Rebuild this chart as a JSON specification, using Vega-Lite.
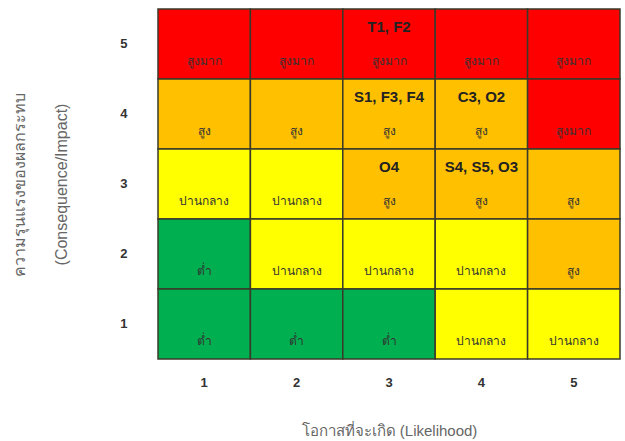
{
  "$schema": "https://vega.github.io/schema/vega-lite/v6.json",
  "width": 462,
  "height": 350,
  "autosize": {"type": "none"},
  "padding": {"left": 158, "top": 9, "right": 5, "bottom": 82},
  "background": "white",
  "config": {"view": {"stroke": null}, "font": "Arial, Liberation Sans, sans-serif"},
  "data": {
    "values": [
      {"likelihood": 1, "impact": 5, "level": "สูงมาก", "codes": ""},
      {"likelihood": 2, "impact": 5, "level": "สูงมาก", "codes": ""},
      {"likelihood": 3, "impact": 5, "level": "สูงมาก", "codes": "T1, F2"},
      {"likelihood": 4, "impact": 5, "level": "สูงมาก", "codes": ""},
      {"likelihood": 5, "impact": 5, "level": "สูงมาก", "codes": ""},
      {"likelihood": 1, "impact": 4, "level": "สูง", "codes": ""},
      {"likelihood": 2, "impact": 4, "level": "สูง", "codes": ""},
      {"likelihood": 3, "impact": 4, "level": "สูง", "codes": "S1, F3, F4"},
      {"likelihood": 4, "impact": 4, "level": "สูง", "codes": "C3,  O2"},
      {"likelihood": 5, "impact": 4, "level": "สูงมาก", "codes": ""},
      {"likelihood": 1, "impact": 3, "level": "ปานกลาง", "codes": ""},
      {"likelihood": 2, "impact": 3, "level": "ปานกลาง", "codes": ""},
      {"likelihood": 3, "impact": 3, "level": "สูง", "codes": "O4"},
      {"likelihood": 4, "impact": 3, "level": "สูง", "codes": "S4, S5, O3"},
      {"likelihood": 5, "impact": 3, "level": "สูง", "codes": ""},
      {"likelihood": 1, "impact": 2, "level": "ต่ำ", "codes": ""},
      {"likelihood": 2, "impact": 2, "level": "ปานกลาง", "codes": ""},
      {"likelihood": 3, "impact": 2, "level": "ปานกลาง", "codes": ""},
      {"likelihood": 4, "impact": 2, "level": "ปานกลาง", "codes": ""},
      {"likelihood": 5, "impact": 2, "level": "สูง", "codes": ""},
      {"likelihood": 1, "impact": 1, "level": "ต่ำ", "codes": ""},
      {"likelihood": 2, "impact": 1, "level": "ต่ำ", "codes": ""},
      {"likelihood": 3, "impact": 1, "level": "ต่ำ", "codes": ""},
      {"likelihood": 4, "impact": 1, "level": "ปานกลาง", "codes": ""},
      {"likelihood": 5, "impact": 1, "level": "ปานกลาง", "codes": ""}
    ]
  },
  "encoding": {
    "x": {
      "field": "likelihood", "type": "ordinal",
      "scale": {"domain": [1, 2, 3, 4, 5], "paddingInner": 0, "paddingOuter": 0},
      "axis": {
        "title": "โอกาสที่จะเกิด (Likelihood)",
        "labelAngle": 0, "labelFontSize": 13, "labelFontWeight": "bold", "labelColor": "#333",
        "labelPadding": 17, "ticks": false, "domain": false,
        "titleFontSize": 15, "titleFontWeight": "normal", "titleColor": "#666", "titlePadding": 34
      }
    },
    "y": {
      "field": "impact", "type": "ordinal",
      "scale": {"domain": [5, 4, 3, 2, 1], "paddingInner": 0, "paddingOuter": 0},
      "axis": {
        "title": ["ความรุนแรงของผลกระทบ", "(Consequence/Impact)"],
        "labelFontSize": 13, "labelFontWeight": "bold", "labelColor": "#333",
        "labelPadding": 31, "ticks": false, "domain": false,
        "titleFontSize": 16, "titleFontWeight": "normal", "titleColor": "#666",
        "titlePadding": 50, "titleLineHeight": 42
      }
    }
  },
  "layer": [
    {
      "mark": {"type": "rect", "stroke": "#3a3a2a", "strokeWidth": 1.5},
      "encoding": {
        "color": {
          "field": "level", "type": "nominal",
          "scale": {"domain": ["สูงมาก", "สูง", "ปานกลาง", "ต่ำ"], "range": ["#FF0000", "#FFC000", "#FFFF00", "#00B050"]},
          "legend": null
        }
      }
    },
    {
      "mark": {"type": "text", "dy": -17, "fontSize": 15, "fontWeight": "bold", "color": "#222"},
      "encoding": {"text": {"field": "codes"}}
    },
    {
      "mark": {"type": "text", "dy": 17, "fontSize": 12, "color": "#333"},
      "encoding": {"text": {"field": "level"}}
    }
  ]
}
